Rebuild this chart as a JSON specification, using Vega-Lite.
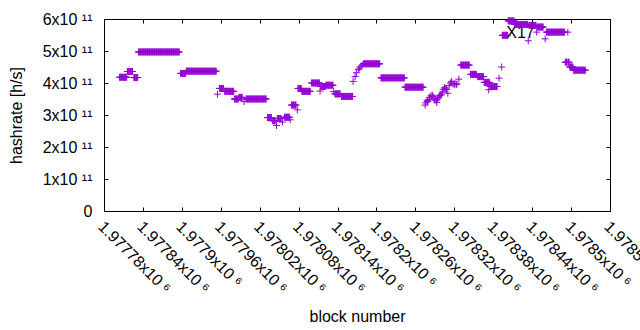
{
"$schema": "https://vega.github.io/schema/vega-lite/v6.json",
"width": 506, "height": 192,
"autosize": "none",
"padding": {"left": 104, "top": 19, "right": 30, "bottom": 119},
"background": "white",
"config": {
 "view": {"stroke": "black", "strokeWidth": 1},
 "axis": {"labelFont": "Liberation Sans", "titleFont": "Liberation Sans", "labelFontSize": 16, "titleFontSize": 16, "titleFontWeight": "normal", "labelColor": "black", "titleColor": "black", "tickColor": "black", "tickWidth": 1, "domain": false, "grid": false, "labelOverlap": false, "labelFlush": false, "labelBound": false}
},
"data": {"values": [
{"b":1977804,"h":4.18e11},{"b":1977805,"h":4.18e11},{"b":1977806,"h":4.18e11},{"b":1977807,"h":4.18e11},{"b":1977808,"h":4.18e11},{"b":1977809,"h":4.18e11},{"b":1977810,"h":4.18e11},{"b":1977811,"h":4.18e11},{"b":1977812,"h":4.18e11},{"b":1977813,"h":4.18e11},{"b":1977814,"h":4.18e11},{"b":1977815,"h":4.18e11},
{"b":1977816,"h":4.36e11},{"b":1977817,"h":4.36e11},{"b":1977818,"h":4.36e11},{"b":1977819,"h":4.36e11},{"b":1977820,"h":4.36e11},{"b":1977821,"h":4.36e11},{"b":1977822,"h":4.36e11},{"b":1977823,"h":4.36e11},{"b":1977824,"h":4.36e11},
{"b":1977826,"h":4.17e11},{"b":1977827,"h":4.17e11},{"b":1977828,"h":4.17e11},{"b":1977829,"h":4.17e11},{"b":1977830,"h":4.17e11},{"b":1977831,"h":4.17e11},{"b":1977832,"h":4.17e11},
{"b":1977833,"h":4.97e11},{"b":1977834,"h":4.97e11},{"b":1977835,"h":4.97e11},{"b":1977836,"h":4.97e11},{"b":1977837,"h":4.97e11},{"b":1977838,"h":4.97e11},{"b":1977839,"h":4.97e11},{"b":1977840,"h":4.97e11},{"b":1977841,"h":4.97e11},{"b":1977842,"h":4.97e11},{"b":1977843,"h":4.97e11},{"b":1977844,"h":4.97e11},{"b":1977845,"h":4.97e11},{"b":1977846,"h":4.97e11},{"b":1977847,"h":4.97e11},{"b":1977848,"h":4.97e11},{"b":1977849,"h":4.97e11},{"b":1977850,"h":4.97e11},{"b":1977851,"h":4.97e11},{"b":1977852,"h":4.97e11},{"b":1977853,"h":4.97e11},{"b":1977854,"h":4.97e11},{"b":1977855,"h":4.97e11},{"b":1977856,"h":4.97e11},{"b":1977857,"h":4.97e11},{"b":1977858,"h":4.97e11},{"b":1977859,"h":4.97e11},{"b":1977860,"h":4.97e11},{"b":1977861,"h":4.97e11},{"b":1977862,"h":4.97e11},{"b":1977863,"h":4.97e11},{"b":1977864,"h":4.97e11},{"b":1977865,"h":4.97e11},{"b":1977866,"h":4.97e11},{"b":1977867,"h":4.97e11},{"b":1977868,"h":4.97e11},{"b":1977869,"h":4.97e11},{"b":1977870,"h":4.97e11},{"b":1977871,"h":4.97e11},{"b":1977872,"h":4.97e11},{"b":1977873,"h":4.97e11},{"b":1977874,"h":4.97e11},{"b":1977875,"h":4.97e11},{"b":1977876,"h":4.97e11},{"b":1977877,"h":4.97e11},{"b":1977878,"h":4.97e11},{"b":1977879,"h":4.97e11},{"b":1977880,"h":4.97e11},{"b":1977881,"h":4.97e11},{"b":1977882,"h":4.97e11},{"b":1977883,"h":4.97e11},{"b":1977884,"h":4.97e11},{"b":1977885,"h":4.97e11},{"b":1977886,"h":4.97e11},{"b":1977887,"h":4.97e11},{"b":1977888,"h":4.97e11},{"b":1977889,"h":4.97e11},{"b":1977890,"h":4.97e11},{"b":1977891,"h":4.97e11},{"b":1977892,"h":4.97e11},{"b":1977893,"h":4.97e11},{"b":1977894,"h":4.97e11},{"b":1977895,"h":4.97e11},{"b":1977896,"h":4.97e11},
{"b":1977898,"h":4.3e11},{"b":1977899,"h":4.3e11},{"b":1977900,"h":4.3e11},{"b":1977901,"h":4.3e11},{"b":1977902,"h":4.3e11},{"b":1977903,"h":4.3e11},{"b":1977904,"h":4.3e11},{"b":1977905,"h":4.3e11},{"b":1977906,"h":4.3e11},
{"b":1977907,"h":4.37e11},{"b":1977908,"h":4.37e11},{"b":1977909,"h":4.37e11},{"b":1977910,"h":4.37e11},{"b":1977911,"h":4.37e11},{"b":1977912,"h":4.37e11},{"b":1977913,"h":4.37e11},{"b":1977914,"h":4.37e11},{"b":1977915,"h":4.37e11},{"b":1977916,"h":4.37e11},{"b":1977917,"h":4.37e11},{"b":1977918,"h":4.37e11},{"b":1977919,"h":4.37e11},{"b":1977920,"h":4.37e11},{"b":1977921,"h":4.37e11},{"b":1977922,"h":4.37e11},{"b":1977923,"h":4.37e11},{"b":1977924,"h":4.37e11},{"b":1977925,"h":4.37e11},{"b":1977926,"h":4.37e11},{"b":1977927,"h":4.37e11},{"b":1977928,"h":4.37e11},{"b":1977929,"h":4.37e11},{"b":1977930,"h":4.37e11},{"b":1977931,"h":4.37e11},{"b":1977932,"h":4.37e11},{"b":1977933,"h":4.37e11},{"b":1977934,"h":4.37e11},{"b":1977935,"h":4.37e11},{"b":1977936,"h":4.37e11},{"b":1977937,"h":4.37e11},{"b":1977938,"h":4.37e11},{"b":1977939,"h":4.37e11},{"b":1977940,"h":4.37e11},{"b":1977941,"h":4.37e11},{"b":1977942,"h":4.37e11},{"b":1977943,"h":4.37e11},{"b":1977944,"h":4.37e11},{"b":1977945,"h":4.37e11},{"b":1977946,"h":4.37e11},{"b":1977947,"h":4.37e11},{"b":1977948,"h":4.37e11},{"b":1977949,"h":4.37e11},{"b":1977950,"h":4.37e11},{"b":1977951,"h":4.37e11},{"b":1977952,"h":4.37e11},{"b":1977953,"h":4.37e11},
{"b":1977955,"h":3.65e11},
{"b":1977958,"h":3.83e11},{"b":1977959,"h":3.83e11},{"b":1977960,"h":3.83e11},{"b":1977961,"h":3.83e11},{"b":1977962,"h":3.83e11},{"b":1977963,"h":3.83e11},{"b":1977964,"h":3.83e11},
{"b":1977966,"h":3.74e11},{"b":1977967,"h":3.74e11},{"b":1977968,"h":3.74e11},{"b":1977969,"h":3.74e11},{"b":1977970,"h":3.74e11},{"b":1977971,"h":3.74e11},{"b":1977972,"h":3.74e11},{"b":1977973,"h":3.74e11},{"b":1977974,"h":3.74e11},{"b":1977975,"h":3.74e11},{"b":1977976,"h":3.74e11},{"b":1977977,"h":3.74e11},{"b":1977978,"h":3.74e11},{"b":1977979,"h":3.74e11},{"b":1977980,"h":3.74e11},
{"b":1977981,"h":3.5e11},{"b":1977982,"h":3.5e11},{"b":1977983,"h":3.5e11},{"b":1977984,"h":3.5e11},{"b":1977985,"h":3.5e11},{"b":1977986,"h":3.5e11},{"b":1977987,"h":3.5e11},
{"b":1977988,"h":3.55e11},{"b":1977989,"h":3.55e11},{"b":1977990,"h":3.55e11},{"b":1977991,"h":3.55e11},{"b":1977992,"h":3.55e11},{"b":1977993,"h":3.55e11},
{"b":1977996,"h":3.42e11},
{"b":1977999,"h":3.5e11},{"b":1978000,"h":3.5e11},{"b":1978001,"h":3.5e11},{"b":1978002,"h":3.5e11},{"b":1978003,"h":3.5e11},{"b":1978004,"h":3.5e11},{"b":1978005,"h":3.5e11},{"b":1978006,"h":3.5e11},{"b":1978007,"h":3.5e11},{"b":1978008,"h":3.5e11},{"b":1978009,"h":3.5e11},{"b":1978010,"h":3.5e11},{"b":1978011,"h":3.5e11},{"b":1978012,"h":3.5e11},{"b":1978013,"h":3.5e11},{"b":1978014,"h":3.5e11},{"b":1978015,"h":3.5e11},{"b":1978016,"h":3.5e11},{"b":1978017,"h":3.5e11},{"b":1978018,"h":3.5e11},{"b":1978019,"h":3.5e11},{"b":1978020,"h":3.5e11},{"b":1978021,"h":3.5e11},{"b":1978022,"h":3.5e11},{"b":1978023,"h":3.5e11},{"b":1978024,"h":3.5e11},{"b":1978025,"h":3.5e11},{"b":1978026,"h":3.5e11},{"b":1978027,"h":3.5e11},{"b":1978028,"h":3.5e11},{"b":1978029,"h":3.5e11},{"b":1978030,"h":3.5e11},
{"b":1978032,"h":2.92e11},{"b":1978033,"h":2.92e11},{"b":1978034,"h":2.92e11},{"b":1978035,"h":2.92e11},{"b":1978036,"h":2.92e11},{"b":1978037,"h":2.92e11},{"b":1978038,"h":2.92e11},
{"b":1978040,"h":2.82e11},{"b":1978041,"h":2.82e11},{"b":1978042,"h":2.82e11},{"b":1978043,"h":2.82e11},{"b":1978044,"h":2.82e11},
{"b":1978046,"h":2.67e11},
{"b":1978047,"h":2.89e11},{"b":1978048,"h":2.89e11},{"b":1978049,"h":2.89e11},{"b":1978050,"h":2.89e11},{"b":1978051,"h":2.89e11},{"b":1978052,"h":2.89e11},{"b":1978053,"h":2.89e11},
{"b":1978055,"h":2.78e11},
{"b":1978058,"h":2.93e11},{"b":1978059,"h":2.93e11},{"b":1978060,"h":2.93e11},{"b":1978061,"h":2.93e11},{"b":1978062,"h":2.93e11},{"b":1978063,"h":2.93e11},{"b":1978064,"h":2.93e11},{"b":1978065,"h":2.93e11},{"b":1978066,"h":2.93e11},
{"b":1978067,"h":2.85e11},
{"b":1978069,"h":3.31e11},{"b":1978070,"h":3.31e11},{"b":1978071,"h":3.31e11},{"b":1978072,"h":3.31e11},{"b":1978073,"h":3.31e11},{"b":1978074,"h":3.31e11},{"b":1978075,"h":3.31e11},{"b":1978076,"h":3.31e11},
{"b":1978078,"h":3.16e11},
{"b":1978079,"h":3.83e11},{"b":1978080,"h":3.83e11},{"b":1978081,"h":3.83e11},{"b":1978082,"h":3.83e11},{"b":1978083,"h":3.83e11},{"b":1978084,"h":3.83e11},
{"b":1978085,"h":3.74e11},{"b":1978086,"h":3.74e11},{"b":1978087,"h":3.74e11},{"b":1978088,"h":3.74e11},{"b":1978089,"h":3.74e11},{"b":1978090,"h":3.74e11},{"b":1978091,"h":3.74e11},{"b":1978092,"h":3.74e11},{"b":1978093,"h":3.74e11},{"b":1978094,"h":3.74e11},{"b":1978095,"h":3.74e11},{"b":1978096,"h":3.74e11},{"b":1978097,"h":3.74e11},{"b":1978098,"h":3.74e11},
{"b":1978100,"h":4e11},{"b":1978101,"h":4e11},{"b":1978102,"h":4e11},{"b":1978103,"h":4e11},{"b":1978104,"h":4e11},{"b":1978105,"h":4e11},{"b":1978106,"h":4e11},{"b":1978107,"h":4e11},{"b":1978108,"h":4e11},{"b":1978109,"h":4e11},{"b":1978110,"h":4e11},{"b":1978111,"h":4e11},{"b":1978112,"h":4e11},
{"b":1978113,"h":3.75e11},
{"b":1978114,"h":3.89e11},{"b":1978115,"h":3.89e11},{"b":1978116,"h":3.89e11},{"b":1978117,"h":3.89e11},{"b":1978118,"h":3.89e11},{"b":1978119,"h":3.89e11},{"b":1978120,"h":3.89e11},{"b":1978121,"h":3.89e11},
{"b":1978122,"h":3.93e11},{"b":1978123,"h":3.93e11},{"b":1978124,"h":3.93e11},{"b":1978125,"h":3.93e11},{"b":1978126,"h":3.93e11},{"b":1978127,"h":3.93e11},{"b":1978128,"h":3.93e11},{"b":1978129,"h":3.93e11},{"b":1978130,"h":3.93e11},{"b":1978131,"h":3.93e11},{"b":1978132,"h":3.93e11},{"b":1978133,"h":3.93e11},
{"b":1978134,"h":3.73e11},
{"b":1978136,"h":3.66e11},{"b":1978137,"h":3.66e11},{"b":1978138,"h":3.66e11},{"b":1978139,"h":3.66e11},{"b":1978140,"h":3.66e11},{"b":1978141,"h":3.66e11},{"b":1978142,"h":3.66e11},{"b":1978143,"h":3.66e11},{"b":1978144,"h":3.66e11},
{"b":1978146,"h":3.58e11},{"b":1978147,"h":3.58e11},{"b":1978148,"h":3.58e11},{"b":1978149,"h":3.58e11},{"b":1978150,"h":3.58e11},{"b":1978151,"h":3.58e11},{"b":1978152,"h":3.58e11},{"b":1978153,"h":3.58e11},{"b":1978154,"h":3.58e11},{"b":1978155,"h":3.58e11},{"b":1978156,"h":3.58e11},{"b":1978157,"h":3.58e11},{"b":1978158,"h":3.58e11},{"b":1978159,"h":3.58e11},{"b":1978160,"h":3.58e11},{"b":1978161,"h":3.58e11},{"b":1978162,"h":3.58e11},{"b":1978163,"h":3.58e11},
{"b":1978164,"h":4.05e11},{"b":1978167,"h":4.2e11},{"b":1978169,"h":4.32e11},{"b":1978172,"h":4.42e11},{"b":1978174,"h":4.47e11},{"b":1978176,"h":4.52e11},{"b":1978178,"h":4.56e11},
{"b":1978180,"h":4.6e11},{"b":1978181,"h":4.6e11},{"b":1978182,"h":4.6e11},{"b":1978183,"h":4.6e11},{"b":1978184,"h":4.6e11},{"b":1978185,"h":4.6e11},{"b":1978186,"h":4.6e11},{"b":1978187,"h":4.6e11},{"b":1978188,"h":4.6e11},{"b":1978189,"h":4.6e11},{"b":1978190,"h":4.6e11},{"b":1978191,"h":4.6e11},{"b":1978192,"h":4.6e11},{"b":1978193,"h":4.6e11},{"b":1978194,"h":4.6e11},{"b":1978195,"h":4.6e11},{"b":1978196,"h":4.6e11},{"b":1978197,"h":4.6e11},{"b":1978198,"h":4.6e11},{"b":1978199,"h":4.6e11},{"b":1978200,"h":4.6e11},{"b":1978201,"h":4.6e11},{"b":1978202,"h":4.6e11},{"b":1978203,"h":4.6e11},{"b":1978204,"h":4.6e11},{"b":1978205,"h":4.6e11},
{"b":1978207,"h":4.16e11},{"b":1978208,"h":4.16e11},{"b":1978209,"h":4.16e11},{"b":1978210,"h":4.16e11},{"b":1978211,"h":4.16e11},{"b":1978212,"h":4.16e11},{"b":1978213,"h":4.16e11},{"b":1978214,"h":4.16e11},{"b":1978215,"h":4.16e11},{"b":1978216,"h":4.16e11},{"b":1978217,"h":4.16e11},{"b":1978218,"h":4.16e11},{"b":1978219,"h":4.16e11},{"b":1978220,"h":4.16e11},{"b":1978221,"h":4.16e11},{"b":1978222,"h":4.16e11},{"b":1978223,"h":4.16e11},{"b":1978224,"h":4.16e11},{"b":1978225,"h":4.16e11},{"b":1978226,"h":4.16e11},{"b":1978227,"h":4.16e11},{"b":1978228,"h":4.16e11},{"b":1978229,"h":4.16e11},{"b":1978230,"h":4.16e11},{"b":1978231,"h":4.16e11},{"b":1978232,"h":4.16e11},{"b":1978233,"h":4.16e11},{"b":1978234,"h":4.16e11},{"b":1978235,"h":4.16e11},{"b":1978236,"h":4.16e11},{"b":1978237,"h":4.16e11},{"b":1978238,"h":4.16e11},{"b":1978239,"h":4.16e11},{"b":1978240,"h":4.16e11},{"b":1978241,"h":4.16e11},{"b":1978242,"h":4.16e11},{"b":1978243,"h":4.16e11},
{"b":1978244,"h":3.87e11},{"b":1978245,"h":3.87e11},{"b":1978246,"h":3.87e11},{"b":1978247,"h":3.87e11},{"b":1978248,"h":3.87e11},{"b":1978249,"h":3.87e11},{"b":1978250,"h":3.87e11},{"b":1978251,"h":3.87e11},{"b":1978252,"h":3.87e11},{"b":1978253,"h":3.87e11},{"b":1978254,"h":3.87e11},{"b":1978255,"h":3.87e11},{"b":1978256,"h":3.87e11},{"b":1978257,"h":3.87e11},{"b":1978258,"h":3.87e11},{"b":1978259,"h":3.87e11},{"b":1978260,"h":3.87e11},{"b":1978261,"h":3.87e11},{"b":1978262,"h":3.87e11},{"b":1978263,"h":3.87e11},{"b":1978264,"h":3.87e11},{"b":1978265,"h":3.87e11},{"b":1978266,"h":3.87e11},{"b":1978267,"h":3.87e11},{"b":1978268,"h":3.87e11},{"b":1978269,"h":3.87e11},{"b":1978270,"h":3.87e11},{"b":1978271,"h":3.87e11},{"b":1978272,"h":3.87e11},
{"b":1978275,"h":3.31e11},{"b":1978276,"h":3.38e11},{"b":1978278,"h":3.45e11},{"b":1978279,"h":3.42e11},{"b":1978281,"h":3.48e11},{"b":1978282,"h":3.55e11},{"b":1978284,"h":3.6e11},{"b":1978286,"h":3.62e11},{"b":1978287,"h":3.58e11},{"b":1978289,"h":3.52e11},{"b":1978290,"h":3.47e11},{"b":1978292,"h":3.45e11},{"b":1978293,"h":3.39e11},{"b":1978294,"h":3.5e11},{"b":1978296,"h":3.55e11},{"b":1978297,"h":3.6e11},{"b":1978299,"h":3.62e11},{"b":1978300,"h":3.65e11},{"b":1978302,"h":3.72e11},{"b":1978303,"h":3.8e11},{"b":1978305,"h":3.85e11},{"b":1978306,"h":3.84e11},{"b":1978308,"h":3.8e11},{"b":1978310,"h":3.68e11},{"b":1978312,"h":3.92e11},{"b":1978314,"h":4e11},{"b":1978316,"h":4.05e11},{"b":1978318,"h":3.97e11},{"b":1978320,"h":3.96e11},{"b":1978321,"h":3.98e11},{"b":1978323,"h":3.95e11},{"b":1978324,"h":3.97e11},{"b":1978327,"h":4.12e11},
{"b":1978330,"h":4.56e11},{"b":1978331,"h":4.56e11},{"b":1978332,"h":4.56e11},{"b":1978333,"h":4.56e11},{"b":1978334,"h":4.56e11},{"b":1978335,"h":4.56e11},{"b":1978336,"h":4.56e11},{"b":1978337,"h":4.56e11},{"b":1978338,"h":4.56e11},{"b":1978339,"h":4.56e11},{"b":1978340,"h":4.56e11},{"b":1978341,"h":4.56e11},{"b":1978342,"h":4.56e11},{"b":1978343,"h":4.56e11},
{"b":1978345,"h":4.27e11},{"b":1978346,"h":4.27e11},{"b":1978347,"h":4.27e11},{"b":1978348,"h":4.27e11},{"b":1978349,"h":4.27e11},{"b":1978350,"h":4.27e11},{"b":1978351,"h":4.27e11},{"b":1978352,"h":4.27e11},{"b":1978353,"h":4.27e11},{"b":1978354,"h":4.27e11},
{"b":1978356,"h":4.2e11},{"b":1978357,"h":4.2e11},{"b":1978358,"h":4.2e11},{"b":1978359,"h":4.2e11},{"b":1978360,"h":4.2e11},{"b":1978361,"h":4.2e11},{"b":1978362,"h":4.2e11},{"b":1978363,"h":4.2e11},{"b":1978364,"h":4.2e11},{"b":1978365,"h":4.2e11},
{"b":1978366,"h":4.02e11},{"b":1978367,"h":4.02e11},{"b":1978368,"h":4.02e11},{"b":1978369,"h":4.02e11},{"b":1978370,"h":4.02e11},{"b":1978371,"h":4.02e11},{"b":1978372,"h":4.02e11},{"b":1978373,"h":4.02e11},{"b":1978374,"h":4.02e11},
{"b":1978373,"h":3.79e11},
{"b":1978375,"h":3.89e11},{"b":1978376,"h":3.89e11},{"b":1978377,"h":3.89e11},{"b":1978378,"h":3.89e11},{"b":1978379,"h":3.89e11},{"b":1978380,"h":3.89e11},{"b":1978381,"h":3.89e11},{"b":1978382,"h":3.89e11},{"b":1978383,"h":3.89e11},{"b":1978384,"h":3.89e11},{"b":1978385,"h":3.89e11},{"b":1978386,"h":3.89e11},
{"b":1978389,"h":4.15e11},{"b":1978393,"h":4.5e11},
{"b":1978394,"h":5.49e11},{"b":1978395,"h":5.49e11},{"b":1978396,"h":5.49e11},{"b":1978397,"h":5.49e11},{"b":1978398,"h":5.49e11},{"b":1978399,"h":5.49e11},{"b":1978400,"h":5.49e11},{"b":1978401,"h":5.49e11},{"b":1978402,"h":5.49e11},
{"b":1978403,"h":5.94e11},{"b":1978404,"h":5.94e11},{"b":1978405,"h":5.94e11},{"b":1978406,"h":5.94e11},{"b":1978407,"h":5.94e11},{"b":1978408,"h":5.94e11},{"b":1978409,"h":5.94e11},{"b":1978410,"h":5.94e11},{"b":1978411,"h":5.94e11},{"b":1978412,"h":5.94e11},
{"b":1978413,"h":5.83e11},{"b":1978414,"h":5.83e11},{"b":1978415,"h":5.83e11},{"b":1978416,"h":5.83e11},{"b":1978417,"h":5.83e11},{"b":1978418,"h":5.83e11},{"b":1978419,"h":5.83e11},{"b":1978420,"h":5.83e11},{"b":1978421,"h":5.83e11},{"b":1978422,"h":5.83e11},{"b":1978423,"h":5.83e11},{"b":1978424,"h":5.83e11},{"b":1978425,"h":5.83e11},{"b":1978426,"h":5.83e11},{"b":1978427,"h":5.83e11},{"b":1978428,"h":5.83e11},{"b":1978429,"h":5.83e11},{"b":1978430,"h":5.83e11},{"b":1978431,"h":5.83e11},{"b":1978432,"h":5.83e11},{"b":1978433,"h":5.83e11},
{"b":1978434,"h":5.32e11},
{"b":1978435,"h":5.8e11},{"b":1978436,"h":5.8e11},{"b":1978437,"h":5.8e11},{"b":1978438,"h":5.8e11},{"b":1978439,"h":5.8e11},{"b":1978440,"h":5.8e11},{"b":1978441,"h":5.8e11},{"b":1978442,"h":5.8e11},{"b":1978443,"h":5.8e11},{"b":1978444,"h":5.8e11},{"b":1978445,"h":5.8e11},{"b":1978446,"h":5.8e11},
{"b":1978447,"h":5.59e11},
{"b":1978448,"h":5.75e11},{"b":1978449,"h":5.75e11},{"b":1978450,"h":5.75e11},{"b":1978451,"h":5.75e11},{"b":1978452,"h":5.75e11},{"b":1978453,"h":5.75e11},{"b":1978454,"h":5.75e11},{"b":1978455,"h":5.75e11},{"b":1978456,"h":5.75e11},{"b":1978457,"h":5.75e11},
{"b":1978460,"h":5.38e11},
{"b":1978462,"h":5.59e11},{"b":1978463,"h":5.59e11},{"b":1978464,"h":5.59e11},{"b":1978465,"h":5.59e11},{"b":1978466,"h":5.59e11},{"b":1978467,"h":5.59e11},{"b":1978468,"h":5.59e11},{"b":1978469,"h":5.59e11},{"b":1978470,"h":5.59e11},{"b":1978471,"h":5.59e11},{"b":1978472,"h":5.59e11},{"b":1978473,"h":5.59e11},{"b":1978474,"h":5.59e11},{"b":1978475,"h":5.59e11},{"b":1978476,"h":5.59e11},{"b":1978477,"h":5.59e11},{"b":1978478,"h":5.59e11},{"b":1978479,"h":5.59e11},{"b":1978480,"h":5.59e11},{"b":1978481,"h":5.59e11},{"b":1978482,"h":5.59e11},{"b":1978483,"h":5.59e11},{"b":1978484,"h":5.59e11},{"b":1978485,"h":5.59e11},{"b":1978486,"h":5.59e11},{"b":1978487,"h":5.59e11},{"b":1978488,"h":5.59e11},{"b":1978489,"h":5.59e11},{"b":1978490,"h":5.59e11},
{"b":1978491,"h":4.65e11},{"b":1978492,"h":4.65e11},{"b":1978493,"h":4.65e11},{"b":1978494,"h":4.65e11},{"b":1978495,"h":5.59e11},{"b":1978496,"h":4.65e11},{"b":1978497,"h":4.65e11},
{"b":1978498,"h":4.5e11},{"b":1978499,"h":4.5e11},{"b":1978500,"h":4.5e11},{"b":1978501,"h":4.5e11},{"b":1978502,"h":4.5e11},{"b":1978503,"h":4.5e11},
{"b":1978504,"h":4.4e11},{"b":1978505,"h":4.4e11},{"b":1978506,"h":4.4e11},{"b":1978507,"h":4.4e11},{"b":1978508,"h":4.4e11},{"b":1978509,"h":4.4e11},{"b":1978510,"h":4.4e11},{"b":1978511,"h":4.4e11},{"b":1978512,"h":4.4e11},{"b":1978513,"h":4.4e11},{"b":1978514,"h":4.4e11},{"b":1978515,"h":4.4e11},{"b":1978516,"h":4.4e11},{"b":1978517,"h":4.4e11},{"b":1978518,"h":4.4e11},{"b":1978519,"h":4.4e11},{"b":1978520,"h":4.4e11},{"b":1978521,"h":4.4e11},{"b":1978522,"h":4.4e11}
]},
"layer": [
 {
  "data": {"values": [{"b": 1978400, "h": 5.4e11, "label": "X17"}]},
  "mark": {"type": "text", "align": "left", "baseline": "alphabetic", "font": "Liberation Sans", "fontSize": 16, "color": "black"},
  "encoding": {
   "x": {"field": "b", "type": "quantitative", "scale": {"domain": [1977780, 1978560], "nice": false, "zero": false}, "axis": null},
   "y": {"field": "h", "type": "quantitative", "scale": {"domain": [0, 6e11], "nice": false}, "axis": null},
   "text": {"field": "label"}
  }
 },
 {
  "mark": {"type": "point", "shape": "M-1,0H1M0,-1V1", "filled": false, "color": "#9400d3", "strokeWidth": 1, "size": 49, "opacity": 1},
  "encoding": {
   "x": {"field": "b", "type": "quantitative", "scale": {"domain": [1977780, 1978560], "nice": false, "zero": false},
    "axis": {"orient": "bottom", "values": [1977780,1977840,1977900,1977960,1978020,1978080,1978140,1978200,1978260,1978320,1978380,1978440,1978500,1978560],
     "labelExpr": "format(datum.value/1e6, '.6~g') + 'x10 ⁶'", "labelAngle": 45, "labelAlign": "left", "labelBaseline": "top", "tickSize": -4, "labelPadding": 11, "labelOffset": 2,
     "title": "block number", "titleX": 253, "titleY": 110, "titleBaseline": "alphabetic", "titleAnchor": "middle"}},
   "y": {"field": "h", "type": "quantitative", "scale": {"domain": [0, 6e11], "nice": false},
    "axis": {"orient": "left", "values": [0,1e11,2e11,3e11,4e11,5e11,6e11],
     "labelExpr": "datum.value == 0 ? '0' : format(datum.value/1e11, 'd') + 'x10 ¹¹'", "tickSize": -4, "labelPadding": 16,
     "title": "hashrate [h/s]", "titleX": -87.5, "titleY": 96, "titleBaseline": "middle", "titleAnchor": "middle"}}
  }
 },
 {
  "mark": {"type": "point", "opacity": 0},
  "encoding": {
   "x": {"field": "b", "type": "quantitative", "scale": {"domain": [1977780, 1978560], "nice": false, "zero": false},
    "axis": {"orient": "top", "values": [1977780,1977840,1977900,1977960,1978020,1978080,1978140,1978200,1978260,1978320,1978380,1978440,1978500,1978560], "labels": false, "tickSize": -4, "title": null}},
   "y": {"field": "h", "type": "quantitative", "scale": {"domain": [0, 6e11], "nice": false},
    "axis": {"orient": "right", "values": [0,1e11,2e11,3e11,4e11,5e11,6e11], "labels": false, "tickSize": -4, "title": null}}
  }
 }
],
"resolve": {"axis": {"x": "independent", "y": "independent"}}
}
